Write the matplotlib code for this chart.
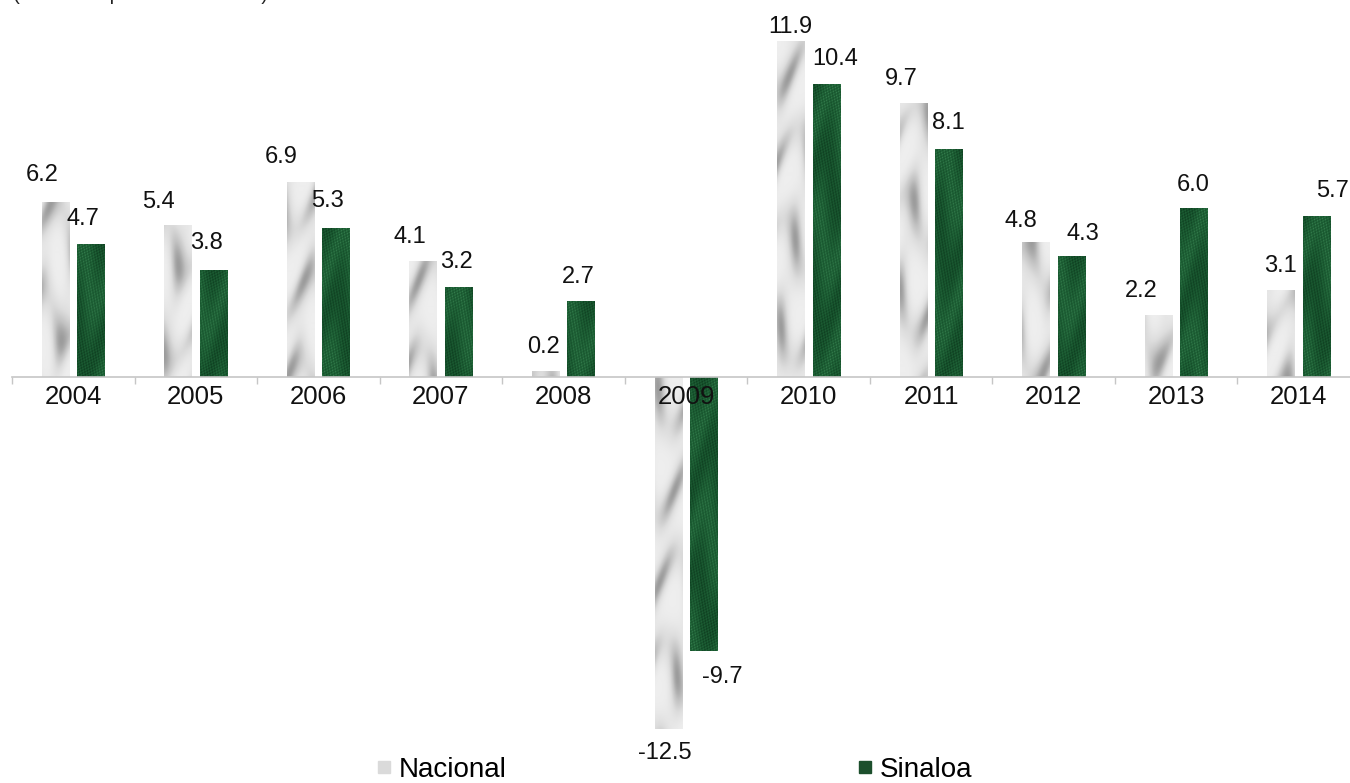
import matplotlib
matplotlib.use("Agg")
import matplotlib.pyplot as plt
import numpy as np
from matplotlib.colors import LinearSegmentedColormap
from matplotlib.lines import Line2D

plt.rcParams['font.family'] = ['Liberation Sans', 'DejaVu Sans']

years = ['2004', '2005', '2006', '2007', '2008', '2009', '2010', '2011', '2012', '2013', '2014']
nacional = [6.2, 5.4, 6.9, 4.1, 0.2, -12.5, 11.9, 9.7, 4.8, 2.2, 3.1]
sinaloa = [4.7, 3.8, 5.3, 3.2, 2.7, -9.7, 10.4, 8.1, 4.3, 6.0, 5.7]

# where each value label sits, in px from the end of its bar (as in the reference)
off_n = [(-13, 27), (-20, 23), (-19, 25), (-13, 24), (-2, 24), (-3, 24),
         (0, 14), (-12, 24), (-15, 21), (-17, 24), (-1, 24)]
off_s = [(-8, 25), (-7, 27), (-9, 27), (-2, 25), (-3, 24), (19, 26),
         (9, 25), (0, 26), (11, 22), (-1, 23), (16, 25)]

W, H, DPI = 1350, 783, 100
fig = plt.figure(figsize=(W / DPI, H / DPI), dpi=DPI)
ax = fig.add_axes([12 / W, (H - 745) / H, 1348 / W, 725 / H])

x = np.arange(len(years))
bw = 0.224
shift = 0.145

gray_cm = LinearSegmentedColormap.from_list('marble_g', ['#eeeeee', '#dddddd', '#c2c2c2', '#9c9c9c'])
green_cm = LinearSegmentedColormap.from_list('marble_v', ['#0d3b1e', '#17532d', '#23683b', '#4f9a68'])


def marble_gray(h, w, ph):
    # soft cloudy streaks, only for the look of the fill
    yy, xx = np.mgrid[0:h, 0:w].astype(float)
    t = (0.6 * np.sin(0.07 * yy + 1.8 * np.sin(0.11 * xx + 0.017 * yy + ph))
         + 0.4 * np.sin(0.031 * yy + 0.19 * xx + 2.3 * ph))
    return np.clip((t + 1) / 2, 0, 1) ** 2


def marble_green(h, w, ph):
    yy, xx = np.mgrid[0:h, 0:w].astype(float)
    t = 0.5 * np.sin(0.05 * yy + 1.5 * np.sin(0.15 * xx + 0.02 * yy + ph))
    s = np.sin(1.7 * xx + 0.9 * yy + ph) * np.sin(1.3 * yy - 0.6 * xx + 2 * ph)
    return np.clip(0.42 + 0.3 * t + 0.24 * s, 0, 1)


def draw_bars(pos, vals, base, cmap, texfn, k):
    bars = ax.bar(pos, vals, bw, color=base, zorder=1, linewidth=0)
    for j, b in enumerate(bars):
        x0, y0 = b.get_x(), b.get_y()
        bh = b.get_height()
        npx = max(int(abs(bh) * 28.2), 2)
        tex = texfn(npx, 28, j * 1.7 + k)
        im = ax.imshow(tex, cmap=cmap, vmin=0, vmax=1, aspect='auto', zorder=1.5,
                       extent=(x0, x0 + bw, min(y0, y0 + bh), max(y0, y0 + bh)),
                       interpolation='bilinear')
        im.set_clip_path(b)
    return bars


draw_bars(x - shift, nacional, '#d8d8d8', gray_cm, marble_gray, 0.0)
draw_bars(x + shift, sinaloa, '#1c5a32', green_cm, marble_green, 0.9)

for xs, vals, offs in [(x - shift, nacional, off_n), (x + shift, sinaloa, off_s)]:
    for xi, v, (dx, dy) in zip(xs, vals, offs):
        sgn = 1 if v >= 0 else -1
        ax.annotate(f'{v:.1f}', (xi, v), xytext=(dx * 0.72, sgn * dy * 0.72),
                    textcoords='offset points', ha='center', va='center',
                    fontsize=17, color='#111111', annotation_clip=False)

ax.set_xlim(-0.5, len(years) - 0.5)
ax.set_ylim(-13.05, 12.66)

for s in ['top', 'left', 'right']:
    ax.spines[s].set_visible(False)
ax.spines['bottom'].set_position(('data', 0))
ax.spines['bottom'].set_color('#c6c6c6')
ax.spines['bottom'].set_linewidth(1.2)
ax.set_yticks([])

ax.set_xticks(np.arange(-0.5, len(years), 1))
ax.set_xticklabels([])
ax.tick_params(axis='x', which='major', length=5, width=1, color='#c6c6c6', direction='out')
ax.set_xticks(x, minor=True)
ax.set_xticklabels(years, minor=True, fontsize=18.5, color='#111111')
ax.tick_params(axis='x', which='minor', length=0, pad=5.5)

# title sits above the top edge, only its descenders show (as in the reference)
fig.text(13 / W, 1.0, '(Variación porcentual anual)', fontsize=14.8, va='baseline', ha='left', color='#222222')

handles = [Line2D([], [], marker='s', ls='', markersize=8.6, color='#dadada', label='Nacional'),
           Line2D([], [], marker='s', ls='', markersize=8.6, color='#1c4f2c', label='Sinaloa')]
fig.legend(handles=handles, loc='center', bbox_to_anchor=(0.5, 0.017), ncol=2, frameon=False,
           fontsize=20, handlelength=0.45, handletextpad=0.3, columnspacing=12.7,
           borderpad=0, borderaxespad=0)

fig.savefig('out.png', dpi=DPI)
